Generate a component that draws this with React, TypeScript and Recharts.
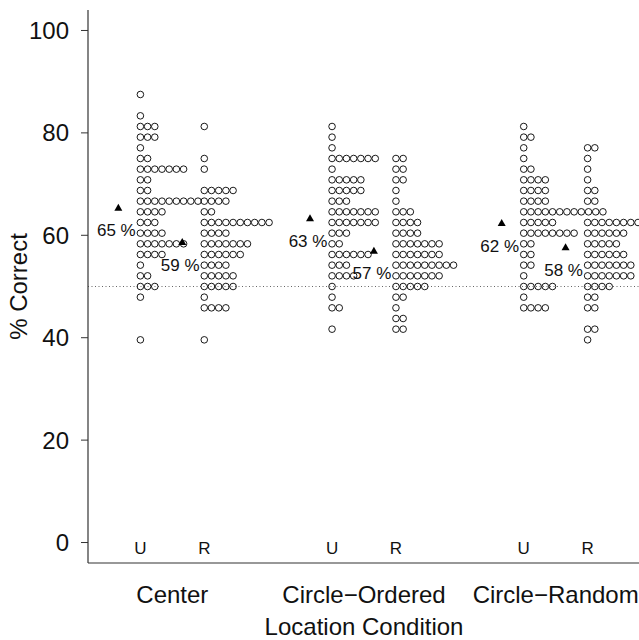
import { ReferenceLine, Scatter, ScatterChart, XAxis, YAxis } from "recharts"

// number correct out of 48 trials, one row per level (top to bottom)
const trials = 48
const levels = [42, 41, 40, 39, 38, 37, 36, 35, 34, 33, 32, 31, 30, 29, 28, 27, 26, 25, 24, 23, 22, 21, 20, 19]

// how many subjects scored each level
const centerU = [1, 0, 1, 3, 3, 1, 2, 7, 2, 2, 9, 4, 3, 4, 7, 4, 1, 2, 3, 1, 0, 0, 0, 1]
const centerR = [0, 0, 0, 1, 0, 0, 1, 1, 0, 5, 4, 2, 10, 4, 7, 6, 4, 5, 5, 1, 4, 0, 0, 1]
const orderedU = [0, 0, 0, 1, 1, 1, 7, 1, 5, 5, 3, 7, 7, 3, 2, 6, 3, 4, 1, 1, 2, 0, 1, 0]
const orderedR = [0, 0, 0, 0, 0, 0, 2, 2, 2, 1, 1, 3, 4, 4, 7, 7, 9, 7, 5, 2, 1, 2, 2, 0]
const randomU = [0, 0, 0, 1, 2, 1, 1, 2, 4, 4, 4, 12, 5, 8, 2, 2, 2, 1, 5, 1, 4, 0, 0, 0]
const randomR = [0, 0, 0, 0, 0, 2, 1, 1, 1, 2, 2, 0, 10, 6, 5, 6, 7, 7, 4, 2, 2, 0, 2, 1]

const groupNames = ["Center", "Circle\u2212Ordered", "Circle\u2212Random"]
const groupPos = [1.5, 4.5, 7.5]
const conditionNames = ["U", "R", "U", "R", "U", "R"]
const columnPos = [1, 2, 4, 5, 7, 8]
const columns = [centerU, centerR, orderedU, orderedR, randomU, randomR]

const yTicks = [0, 20, 40, 60, 80, 100]
const chance = 50

const FONT = "'Liberation Sans', Arial, Helvetica, sans-serif"
const INK = "#111"
const LINE = "#333"
const BIG = 24
const stackStep = 0.1127 // stripchart "stack" offset
const meanShift = 0.345

function toPct(k: number) {
  return (k / trials) * 100
}

function stackPoints(pos: number, counts: number[]) {
  const pts: { x: number; y: number }[] = []
  levels.forEach((k, li) => {
    for (let i = 0; i < counts[li]; i++) pts.push({ x: pos + i * stackStep, y: toPct(k) })
  })
  return pts
}

function meanOf(counts: number[]) {
  let n = 0
  let s = 0
  levels.forEach((k, i) => {
    n += counts[i]
    s += counts[i] * toPct(k)
  })
  return s / n
}

const meanPoints = columns.map((c, i) => {
  const m = meanOf(c)
  return { x: columnPos[i] - meanShift, y: m, label: `${Math.round(m)} %` }
})

const Dot = (p: any) => (
  <circle cx={p.cx} cy={p.cy} r={3.3} fill="none" stroke="#000" strokeWidth={0.9} />
)

const MeanMark = (p: any) => (
  <g>
    <path d={`M${p.cx},${p.cy - 4.2} L${p.cx + 4},${p.cy + 2.8} L${p.cx - 4},${p.cy + 2.8} Z`} fill="#000" />
    <text
      x={p.cx - 2}
      y={p.cy + 23}
      textAnchor="middle"
      dominantBaseline="central"
      fontSize={17}
      fontFamily={FONT}
      fill={INK}
    >
      {p.payload.label}
    </text>
  </g>
)

const BottomTick = (p: any) => {
  const v = p.payload.value
  const gi = groupPos.indexOf(v)
  if (gi >= 0) {
    return (
      <text x={p.x} y={p.y + 31} textAnchor="middle" dominantBaseline="central" fontSize={BIG} fontFamily={FONT} fill={INK}>
        {groupNames[gi]}
      </text>
    )
  }
  const ci = columnPos.indexOf(v)
  return (
    <text x={p.x} y={p.y - 15} textAnchor="middle" dominantBaseline="central" fontSize={17} fontFamily={FONT} fill={INK}>
      {conditionNames[ci]}
    </text>
  )
}

export default function App() {
  const xDomain = [0.18, 8.82]
  return (
    <div
      style={{
        position: "absolute",
        left: 0,
        top: 0,
        width: 639,
        height: 640,
        overflow: "hidden",
        background: "#fff",
        fontFamily: FONT,
      }}
    >
      <ScatterChart width={640} height={640} margin={{ top: 10, right: 0, bottom: 0, left: 0 }}>
        <XAxis
          xAxisId="b"
          type="number"
          dataKey="x"
          domain={xDomain}
          allowDataOverflow
          ticks={[...columnPos, ...groupPos].sort((a, b) => a - b)}
          interval={0}
          tick={<BottomTick />}
          tickLine={false}
          tickSize={0}
          tickMargin={0}
          height={77}
          axisLine={{ stroke: LINE, strokeWidth: 1.2 }}
          label={{
            content: (lp: any) => {
              const vb = lp.viewBox || { x: 88, y: 563, width: 552 }
              return (
                <text x={vb.x + vb.width / 2} y={626} textAnchor="middle" dominantBaseline="central" fontSize={BIG} fontFamily={FONT} fill={INK}>
                  Location Condition
                </text>
              )
            },
          }}
        />
        <XAxis
          xAxisId="t"
          orientation="top"
          type="number"
          dataKey="x"
          domain={xDomain}
          allowDataOverflow
          height={0}
          tick={false}
          tickLine={false}
          axisLine={{ stroke: LINE, strokeWidth: 1.2 }}
        />
        <YAxis
          type="number"
          dataKey="y"
          domain={[-4, 104]}
          allowDataOverflow
          ticks={yTicks}
          interval={0}
          width={88}
          tickSize={7}
          tickMargin={12}
          tick={{ fontSize: BIG, fill: INK, fontFamily: FONT }}
          tickLine={{ stroke: LINE }}
          axisLine={{ stroke: LINE, strokeWidth: 1.2 }}
          label={{
            content: (lp: any) => {
              const vb = lp.viewBox || { y: 10, height: 553 }
              const cy = vb.y + vb.height / 2
              return (
                <text
                  x={18}
                  y={cy}
                  transform={`rotate(-90, 18, ${cy})`}
                  textAnchor="middle"
                  dominantBaseline="central"
                  fontSize={BIG}
                  fontFamily={FONT}
                  fill={INK}
                >
                  % Correct
                </text>
              )
            },
          }}
        />
        <ReferenceLine xAxisId="b" y={chance} stroke="#666" strokeWidth={1} strokeDasharray="1 2.5" />
        {columns.map((c, i) => (
          <Scatter
            key={i}
            xAxisId="b"
            data={stackPoints(columnPos[i], c)}
            shape={<Dot />}
            isAnimationActive={false}
          />
        ))}
        <Scatter xAxisId="b" data={meanPoints} shape={<MeanMark />} isAnimationActive={false} />
      </ScatterChart>
    </div>
  )
}
